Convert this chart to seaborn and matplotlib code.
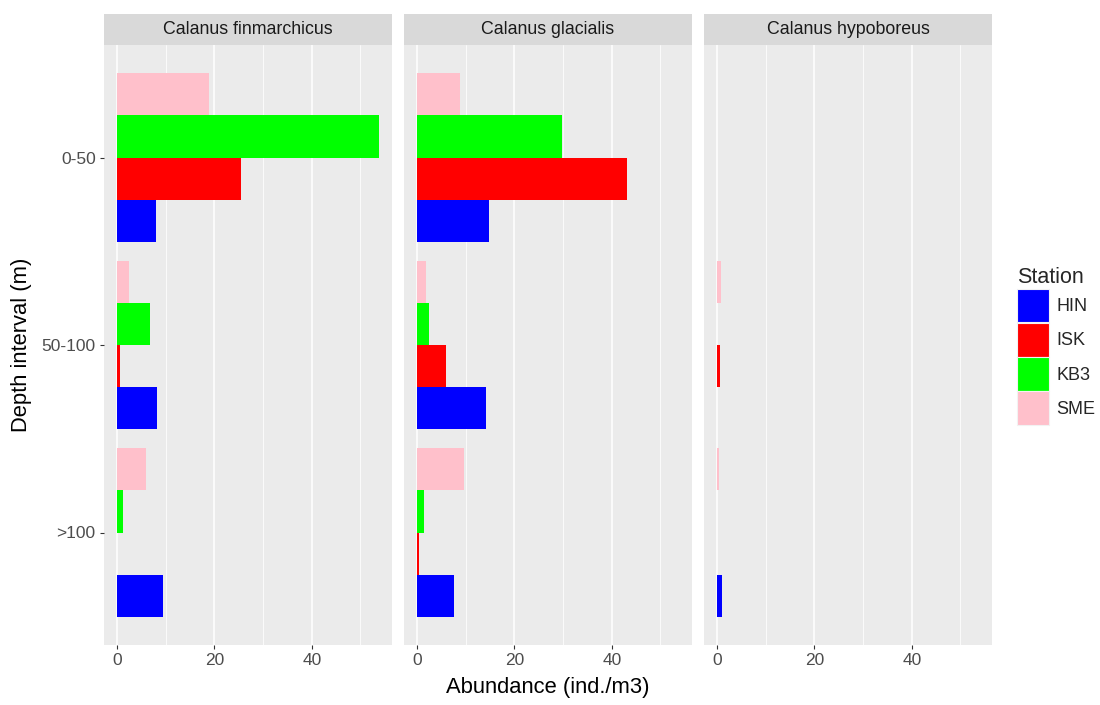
import matplotlib
matplotlib.use("Agg")
import matplotlib.pyplot as plt
from matplotlib.patches import Patch
from matplotlib.ticker import MultipleLocator
import seaborn as sns
import pandas as pd

species = ["Calanus finmarchicus", "Calanus glacialis", "Calanus hypoboreus"]
depths = ["0-50", "50-100", ">100"]
stations = ["HIN", "ISK", "KB3", "SME"]

# values per species: rows = depth, columns = station (HIN, ISK, KB3, SME)
finmarchicus = [[8.0, 25.5, 53.8, 18.9],
                [8.3, 0.5, 6.8, 2.5],
                [9.5, 0.0, 1.3, 5.9]]
glacialis = [[14.8, 43.1, 29.8, 8.8],
             [14.2, 6.0, 2.5, 1.8],
             [7.5, 0.3, 1.5, 9.6]]
hypoboreus = [[0.0, 0.0, 0.0, 0.0],
              [0.0, 0.7, 0.0, 0.8],
              [1.0, 0.0, 0.0, 0.4]]

colors = ["#0000FF", "#FF0000", "#00FF00", "#FFC0CB"]

rows = []
for sp, tab in zip(species, [finmarchicus, glacialis, hypoboreus]):
    for d, vals in zip(depths, tab):
        for st, v in zip(stations, vals):
            rows.append({"Species": sp, "Depth": d, "Station": st, "Abundance": v})
df = pd.DataFrame(rows)

sns.set_theme(style="white")
plt.rcParams["font.family"] = ["Liberation Sans", "DejaVu Sans"]

W, H = 1100, 705
fig = plt.figure(figsize=(W / 100, H / 100), dpi=100)

palette = dict(zip(stations, colors))
xmax = df["Abundance"].max()
xlim = (-0.05 * xmax, 1.05 * xmax)

panel_lefts = [104, 404, 704]
panel_w = 288
panel_top, panel_bot = 45, 645
strip_top = 14

for i, sp in enumerate(species):
    left = panel_lefts[i]
    ax = fig.add_axes([left / W, 1 - panel_bot / H, panel_w / W, (panel_bot - panel_top) / H])
    sub = df[df["Species"] == sp]
    sns.barplot(data=sub, y="Depth", x="Abundance", hue="Station",
                order=depths, hue_order=stations[::-1], palette=palette,
                orient="h", width=0.9, gap=0, linewidth=0, errorbar=None,
                saturation=1, legend=False, ax=ax)
    ax.set_facecolor("#EBEBEB")
    for s in ax.spines.values():
        s.set_visible(False)
    ax.set_xlim(*xlim)
    ax.set_ylim(2.6, -0.6)
    ax.xaxis.set_major_locator(MultipleLocator(20))
    ax.xaxis.set_minor_locator(MultipleLocator(10))
    ax.grid(which="major", axis="x", color="white", linewidth=1.1)
    ax.grid(which="minor", axis="x", color="white", linewidth=0.55)
    ax.grid(False, axis="y")
    ax.set_axisbelow(True)
    ax.tick_params(axis="both", which="major", length=3, width=0.8, color="#333333",
                   labelcolor="#4D4D4D", labelsize=12.5, pad=3, bottom=True, left=(i == 0))
    ax.tick_params(axis="x", which="minor", length=0)
    ax.set_xlabel("")
    ax.set_ylabel("")
    if i > 0:
        ax.set_yticklabels([])
        ax.tick_params(axis="y", left=False)

    # strip
    sax = fig.add_axes([left / W, 1 - panel_top / H, panel_w / W, (panel_top - strip_top) / H])
    sax.set_facecolor("#D9D9D9")
    sax.set_xticks([])
    sax.set_yticks([])
    for s in sax.spines.values():
        s.set_visible(False)
    sax.text(0.5, 0.5, sp, ha="center", va="center", fontsize=12.8, color="#1A1A1A",
             transform=sax.transAxes)

fig.text(548 / W, 1 - 688 / H, "Abundance (ind./m3)", ha="center", va="center",
         fontsize=15.8, color="black")
fig.text(22 / W, 1 - 345 / H, "Depth interval (m)", ha="center", va="center",
         rotation=90, fontsize=15.8, color="black")

handles = [Patch(facecolor=c, edgecolor="#F2F2F2", linewidth=0.8) for c in colors]
leg = fig.legend(handles, stations, title="Station", loc="center left",
                 bbox_to_anchor=(1017 / W, 1 - 346 / H), frameon=False,
                 fontsize=13, title_fontsize=15.5, handlelength=1.77, handleheight=2.45,
                 labelspacing=0.05, handletextpad=0.4, borderpad=0, borderaxespad=0)
leg._legend_box.align = "left"

fig.savefig("out.png", dpi=100)
